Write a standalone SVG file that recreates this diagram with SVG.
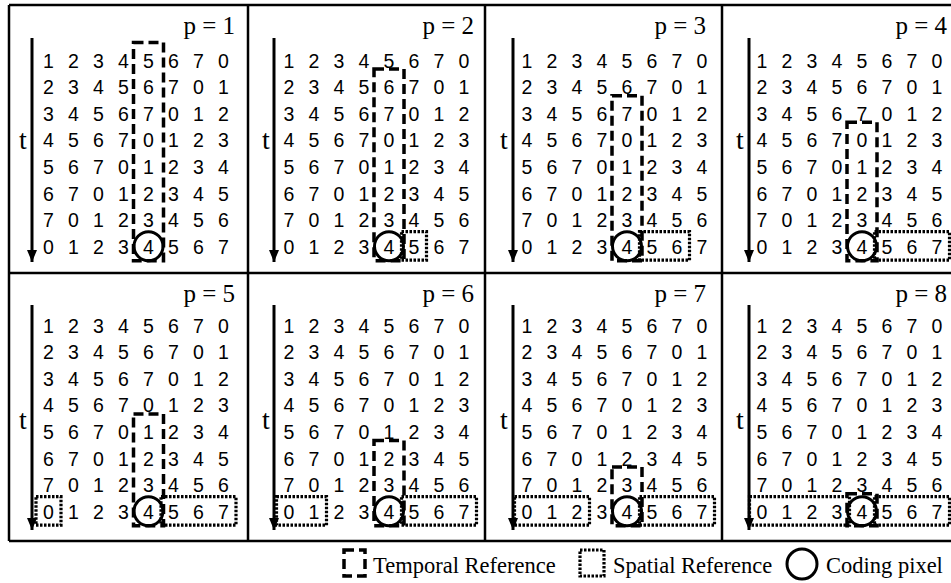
<svg xmlns="http://www.w3.org/2000/svg" width="951" height="583" viewBox="0 0 951 583">
<style>
.frame{stroke:#000;stroke-width:2.5;fill:none}
.d{font-family:"Liberation Sans",Arial,sans-serif;font-size:19.5px;text-anchor:middle;fill:#000}
.p{font-family:"Liberation Serif","Times New Roman",serif;font-size:25px;text-anchor:end;fill:#000}
.t{font-family:"Liberation Serif","Times New Roman",serif;font-size:28px;text-anchor:middle;fill:#000}
.lg{font-family:"Liberation Serif","Times New Roman",serif;font-size:22.5px;fill:#000}
.tmp{fill:none;stroke:#000;stroke-width:3.5;stroke-dasharray:10 5}
.spa{fill:none;stroke:#000;stroke-width:3.2;stroke-dasharray:2.5 1.5}
.cp{fill:none;stroke:#000;stroke-width:3}
.ax{stroke:#000;stroke-width:3;fill:none}
</style>
<defs>
<marker id="ah" viewBox="0 0 12 10" refX="12" refY="5" markerWidth="12" markerHeight="10" markerUnits="userSpaceOnUse" orient="auto">
<path d="M0,0 L12,5 L0,10 Z" fill="#000"/>
</marker>
</defs>
<rect width="951" height="583" fill="#fff"/>
<g id="frame">
<path class="frame" d="M9,5 H951 M9,273 H951 M9,541 H951 M9,5 V541 M248,5 V541 M485,5 V541 M722,5 V541"/>
</g>
<g id="connectors">
<line class="ax" x1="32" y1="38" x2="32" y2="262" marker-end="url(#ah)"/>
<line class="ax" x1="274" y1="38" x2="274" y2="262" marker-end="url(#ah)"/>
<line class="ax" x1="513" y1="38" x2="513" y2="262" marker-end="url(#ah)"/>
<line class="ax" x1="749" y1="38" x2="749" y2="262" marker-end="url(#ah)"/>
<line class="ax" x1="32" y1="305" x2="32" y2="530" marker-end="url(#ah)"/>
<line class="ax" x1="274" y1="305" x2="274" y2="530" marker-end="url(#ah)"/>
<line class="ax" x1="513" y1="305" x2="513" y2="530" marker-end="url(#ah)"/>
<line class="ax" x1="749" y1="305" x2="749" y2="530" marker-end="url(#ah)"/>
</g>
<g id="panel-p1">
<text class="p" x="235" y="34">p = 1</text>
<text class="t" x="23" y="149">t</text>
<text class="d" x="48.5 73.5 98.5 123.5 148.5 173.5 198.5 223.5" y="67.5">12345670</text>
<text class="d" x="48.5 73.5 98.5 123.5 148.5 173.5 198.5 223.5" y="94.1">23456701</text>
<text class="d" x="48.5 73.5 98.5 123.5 148.5 173.5 198.5 223.5" y="120.7">34567012</text>
<text class="d" x="48.5 73.5 98.5 123.5 148.5 173.5 198.5 223.5" y="147.3">45670123</text>
<text class="d" x="48.5 73.5 98.5 123.5 148.5 173.5 198.5 223.5" y="173.9">56701234</text>
<text class="d" x="48.5 73.5 98.5 123.5 148.5 173.5 198.5 223.5" y="200.5">67012345</text>
<text class="d" x="48.5 73.5 98.5 123.5 148.5 173.5 198.5 223.5" y="227.1">70123456</text>
<text class="d" x="48.5 73.5 98.5 123.5 148.5 173.5 198.5 223.5" y="253.7">01234567</text>
<rect class="tmp" x="133.5" y="42.5" width="30" height="218.2"/>
<circle class="cp" cx="148.5" cy="246.2" r="14.5"/>
</g>
<g id="panel-p2">
<text class="p" x="474" y="34">p = 2</text>
<text class="t" x="266" y="149">t</text>
<text class="d" x="289 314 339 364 389 414 439 464" y="67.5">12345670</text>
<text class="d" x="289 314 339 364 389 414 439 464" y="94.1">23456701</text>
<text class="d" x="289 314 339 364 389 414 439 464" y="120.7">34567012</text>
<text class="d" x="289 314 339 364 389 414 439 464" y="147.3">45670123</text>
<text class="d" x="289 314 339 364 389 414 439 464" y="173.9">56701234</text>
<text class="d" x="289 314 339 364 389 414 439 464" y="200.5">67012345</text>
<text class="d" x="289 314 339 364 389 414 439 464" y="227.1">70123456</text>
<text class="d" x="289 314 339 364 389 414 439 464" y="253.7">01234567</text>
<rect class="tmp" x="374" y="69.1" width="30" height="191.6"/>
<rect class="spa" x="401.5" y="231.7" width="25" height="28.5"/>
<circle class="cp" cx="389" cy="246.2" r="14.5"/>
</g>
<g id="panel-p3">
<text class="p" x="706" y="34">p = 3</text>
<text class="t" x="504" y="149">t</text>
<text class="d" x="527 552 577 602 627 652 677 702" y="67.5">12345670</text>
<text class="d" x="527 552 577 602 627 652 677 702" y="94.1">23456701</text>
<text class="d" x="527 552 577 602 627 652 677 702" y="120.7">34567012</text>
<text class="d" x="527 552 577 602 627 652 677 702" y="147.3">45670123</text>
<text class="d" x="527 552 577 602 627 652 677 702" y="173.9">56701234</text>
<text class="d" x="527 552 577 602 627 652 677 702" y="200.5">67012345</text>
<text class="d" x="527 552 577 602 627 652 677 702" y="227.1">70123456</text>
<text class="d" x="527 552 577 602 627 652 677 702" y="253.7">01234567</text>
<rect class="tmp" x="612" y="95.7" width="30" height="165"/>
<rect class="spa" x="639.5" y="231.7" width="50" height="28.5"/>
<circle class="cp" cx="627" cy="246.2" r="14.5"/>
</g>
<g id="panel-p4">
<text class="p" x="947" y="34">p = 4</text>
<text class="t" x="740" y="149">t</text>
<text class="d" x="762 787 812 837 862 887 912 937" y="67.5">12345670</text>
<text class="d" x="762 787 812 837 862 887 912 937" y="94.1">23456701</text>
<text class="d" x="762 787 812 837 862 887 912 937" y="120.7">34567012</text>
<text class="d" x="762 787 812 837 862 887 912 937" y="147.3">45670123</text>
<text class="d" x="762 787 812 837 862 887 912 937" y="173.9">56701234</text>
<text class="d" x="762 787 812 837 862 887 912 937" y="200.5">67012345</text>
<text class="d" x="762 787 812 837 862 887 912 937" y="227.1">70123456</text>
<text class="d" x="762 787 812 837 862 887 912 937" y="253.7">01234567</text>
<rect class="tmp" x="847" y="122.3" width="30" height="138.4"/>
<rect class="spa" x="874.5" y="231.7" width="75" height="28.5"/>
<circle class="cp" cx="862" cy="246.2" r="14.5"/>
</g>
<g id="panel-p5">
<text class="p" x="235" y="302">p = 5</text>
<text class="t" x="23" y="429">t</text>
<text class="d" x="48.5 73.5 98.5 123.5 148.5 173.5 198.5 223.5" y="332.5">12345670</text>
<text class="d" x="48.5 73.5 98.5 123.5 148.5 173.5 198.5 223.5" y="359.1">23456701</text>
<text class="d" x="48.5 73.5 98.5 123.5 148.5 173.5 198.5 223.5" y="385.7">34567012</text>
<text class="d" x="48.5 73.5 98.5 123.5 148.5 173.5 198.5 223.5" y="412.3">45670123</text>
<text class="d" x="48.5 73.5 98.5 123.5 148.5 173.5 198.5 223.5" y="438.9">56701234</text>
<text class="d" x="48.5 73.5 98.5 123.5 148.5 173.5 198.5 223.5" y="465.5">67012345</text>
<text class="d" x="48.5 73.5 98.5 123.5 148.5 173.5 198.5 223.5" y="492.1">70123456</text>
<text class="d" x="48.5 73.5 98.5 123.5 148.5 173.5 198.5 223.5" y="518.7">01234567</text>
<rect class="tmp" x="133.5" y="413.9" width="30" height="111.8"/>
<rect class="spa" x="36" y="496.7" width="25" height="28.5"/>
<rect class="spa" x="161" y="496.7" width="75" height="28.5"/>
<circle class="cp" cx="148.5" cy="511.2" r="14.5"/>
</g>
<g id="panel-p6">
<text class="p" x="474" y="302">p = 6</text>
<text class="t" x="266" y="429">t</text>
<text class="d" x="289 314 339 364 389 414 439 464" y="332.5">12345670</text>
<text class="d" x="289 314 339 364 389 414 439 464" y="359.1">23456701</text>
<text class="d" x="289 314 339 364 389 414 439 464" y="385.7">34567012</text>
<text class="d" x="289 314 339 364 389 414 439 464" y="412.3">45670123</text>
<text class="d" x="289 314 339 364 389 414 439 464" y="438.9">56701234</text>
<text class="d" x="289 314 339 364 389 414 439 464" y="465.5">67012345</text>
<text class="d" x="289 314 339 364 389 414 439 464" y="492.1">70123456</text>
<text class="d" x="289 314 339 364 389 414 439 464" y="518.7">01234567</text>
<rect class="tmp" x="374" y="440.5" width="30" height="85.2"/>
<rect class="spa" x="276.5" y="496.7" width="50" height="28.5"/>
<rect class="spa" x="401.5" y="496.7" width="75" height="28.5"/>
<circle class="cp" cx="389" cy="511.2" r="14.5"/>
</g>
<g id="panel-p7">
<text class="p" x="706" y="302">p = 7</text>
<text class="t" x="504" y="429">t</text>
<text class="d" x="527 552 577 602 627 652 677 702" y="332.5">12345670</text>
<text class="d" x="527 552 577 602 627 652 677 702" y="359.1">23456701</text>
<text class="d" x="527 552 577 602 627 652 677 702" y="385.7">34567012</text>
<text class="d" x="527 552 577 602 627 652 677 702" y="412.3">45670123</text>
<text class="d" x="527 552 577 602 627 652 677 702" y="438.9">56701234</text>
<text class="d" x="527 552 577 602 627 652 677 702" y="465.5">67012345</text>
<text class="d" x="527 552 577 602 627 652 677 702" y="492.1">70123456</text>
<text class="d" x="527 552 577 602 627 652 677 702" y="518.7">01234567</text>
<rect class="tmp" x="612" y="467.1" width="30" height="58.6"/>
<rect class="spa" x="514.5" y="496.7" width="75" height="28.5"/>
<rect class="spa" x="639.5" y="496.7" width="75" height="28.5"/>
<circle class="cp" cx="627" cy="511.2" r="14.5"/>
</g>
<g id="panel-p8">
<text class="p" x="947" y="302">p = 8</text>
<text class="t" x="740" y="429">t</text>
<text class="d" x="762 787 812 837 862 887 912 937" y="332.5">12345670</text>
<text class="d" x="762 787 812 837 862 887 912 937" y="359.1">23456701</text>
<text class="d" x="762 787 812 837 862 887 912 937" y="385.7">34567012</text>
<text class="d" x="762 787 812 837 862 887 912 937" y="412.3">45670123</text>
<text class="d" x="762 787 812 837 862 887 912 937" y="438.9">56701234</text>
<text class="d" x="762 787 812 837 862 887 912 937" y="465.5">67012345</text>
<text class="d" x="762 787 812 837 862 887 912 937" y="492.1">70123456</text>
<text class="d" x="762 787 812 837 862 887 912 937" y="518.7">01234567</text>
<rect class="tmp" x="847" y="493.7" width="30" height="32"/>
<rect class="spa" x="749.5" y="496.7" width="100" height="28.5"/>
<rect class="spa" x="874.5" y="496.7" width="75" height="28.5"/>
<circle class="cp" cx="862" cy="511.2" r="14.5"/>
</g>
<g id="legend">
<rect class="tmp" x="344" y="550" width="21" height="26"/>
<text class="lg" x="373" y="573">Temporal Reference</text>
<rect class="spa" x="580" y="550" width="24" height="26"/>
<text class="lg" x="613" y="573">Spatial Reference</text>
<circle class="cp" cx="802" cy="564" r="15"/>
<text class="lg" x="826" y="573">Coding pixel</text>
</g>
</svg>
